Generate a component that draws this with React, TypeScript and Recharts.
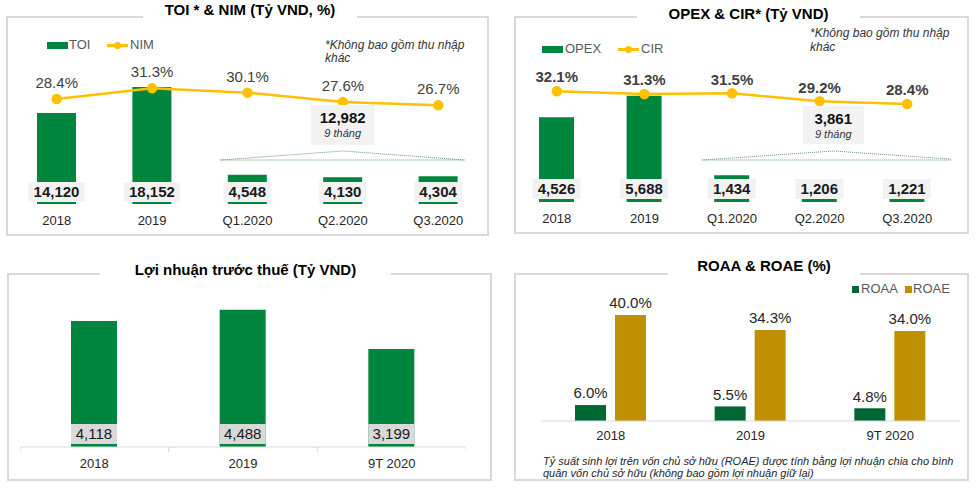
import React from 'react';
import { ComposedChart, BarChart, Bar, Line, XAxis, YAxis, LabelList } from 'recharts';

const FONT = '"Liberation Sans", Arial, sans-serif';

// TOI / NIM and OPEX / CIR by period
const periods = ['2018', '2019', 'Q1.2020', 'Q2.2020', 'Q3.2020'];
const toiValues = [14120, 18152, 4548, 4130, 4304];
const nimValues = [28.4, 31.3, 30.1, 27.6, 26.7];
const opexValues = [4526, 5688, 1434, 1206, 1221];
const cirValues = [32.1, 31.3, 31.5, 29.2, 28.4];

// profit before tax and return ratios by year
const years = ['2018', '2019', '9T 2020'];
const profitValues = [4118, 4488, 3199];
const roaaValues = [6.0, 5.5, 4.8];
const roaeValues = [40.0, 34.3, 34.0];

const GREEN = '#00853f';
const DARK_GREEN = '#006633';
const GOLD = '#bf9000';
const YELLOW = '#ffc000';

const toiData = periods.map((p, i) => ({ period: p, toi: toiValues[i], nim: nimValues[i] }));
const opexData = periods.map((p, i) => ({ period: p, opex: opexValues[i], cir: cirValues[i] }));
const profitData = years.map((y, i) => ({ year: y, profit: profitValues[i] }));
const roaData = years.map((y, i) => ({ year: y, roaa: roaaValues[i], roae: roaeValues[i] }));

// sum of the three 2020 quarters
const nineMonths = (vals: number[]) => vals.slice(2).reduce((a, b) => a + b, 0);
const fmt = (v: number) => v.toLocaleString('en-US');

const Frame = ({ left, top, width, height, title, titleY, gapLeft, gapRight }: any) => (
  <>
    <div
      style={{
        position: 'absolute', left, top, width, height,
        border: '2px solid #d9d9d9', boxSizing: 'border-box',
      }}
    />
    <div style={{ position: 'absolute', left: gapLeft, top: top - 3, width: gapRight - gapLeft, height: 6, background: '#fff' }} />
    <div
      style={{
        position: 'absolute', left: gapLeft, width: gapRight - gapLeft, top: titleY - 10, height: 20,
        lineHeight: '20px', textAlign: 'center', fontFamily: FONT, fontWeight: 'bold', fontSize: 15, color: '#000',
      }}
    >
      {title}
    </div>
  </>
);

const Txt = ({ left, cy, size = 13, italic = false, color = '#595959', children }: any) => (
  <div
    style={{
      position: 'absolute', left, top: cy - 8, height: 16, lineHeight: '16px', whiteSpace: 'nowrap',
      fontFamily: FONT, fontSize: size, fontStyle: italic ? 'italic' : 'normal', color,
    }}
  >
    {children}
  </div>
);

const LineKey = ({ left, cy, label }: any) => (
  <>
    <div style={{ position: 'absolute', left, top: cy - 1, width: 21, height: 2.5, background: YELLOW }} />
    <div style={{ position: 'absolute', left: left + 7, top: cy - 3.5, width: 7, height: 7, borderRadius: 4, background: YELLOW }} />
    <Txt left={left + 23} cy={cy}>{label}</Txt>
  </>
);

// gray box with the value sitting on the bottom of each bar
const bottomBox = (gap: number, bold: boolean, fill: string, fullWidth: boolean, note?: any) => (props: any) => {
  const { x, y, width, height, value, index } = props;
  const label = fmt(Number(value));
  const cx = Number(x) + Number(width) / 2;
  const bottom = Number(y) + Number(height);
  const w = fullWidth ? Number(width) : label.length * 8 + 8;
  const top = bottom - gap - 20;
  const parts = [
    <rect key="b" x={cx - w / 2} y={top} width={w} height={20} fill={fill} />,
    <text key="t" x={cx} y={top + 10} dy="0.35em" textAnchor="middle" fontFamily={FONT} fontSize={15}
      fontWeight={bold ? 'bold' : 'normal'} fill="#1a1a1a">{label}</text>,
  ];
  if (note && index === 3) {
    const ax = cx + note.dx;
    parts.push(
      <g key="n">
        <rect x={ax - note.w / 2} y={note.top} width={note.w} height={note.h} fill="#f2f2f2" />
        <text x={ax} y={note.top + 13} dy="0.35em" textAnchor="middle" fontFamily={FONT} fontSize={15} fontWeight="bold" fill="#111">
          {fmt(note.total)}
        </text>
        <text x={ax} y={note.top + 28} dy="0.35em" textAnchor="middle" fontFamily={FONT} fontSize={11} fontStyle="italic" fill="#333">
          9 tháng
        </text>
        <polyline
          points={`${ax - note.half},${note.base} ${ax},${note.base - 9} ${ax + note.half},${note.base}`}
          fill="none" stroke="#5c9e6e" strokeWidth={1} strokeDasharray="1 1"
        />
        <line x1={ax - note.half} x2={ax + note.half} y1={note.base} y2={note.base} stroke="#5c9e6e" strokeWidth={1} strokeDasharray="1 1" />
      </g>
    );
  }
  return <g>{parts}</g>;
};

const pointLabel = (bold: boolean, lift: number) => (props: any) => {
  const { x, y, value } = props;
  return (
    <text x={x} y={Number(y) - lift} dy="0.35em" textAnchor="middle" fontFamily={FONT} fontSize={15}
      fontWeight={bold ? 'bold' : 'normal'} fill="#404040">
      {Number(value).toFixed(1)}%
    </text>
  );
};

const topLabel = (props: any) => {
  const { x, y, width, value } = props;
  return (
    <text x={Number(x) + Number(width) / 2} y={Number(y) - 12} dy="0.35em" textAnchor="middle" fontFamily={FONT} fontSize={15} fill="#262626">
      {Number(value).toFixed(1)}%
    </text>
  );
};

const BoundaryTick = (props: any) => {
  const { x, y, payload, index } = props;
  const half = payload && payload.offset ? payload.offset : 74;
  const axisY = y - 12;
  return (
    <g>
      <line x1={x - half} x2={x - half} y1={axisY} y2={axisY + 5} stroke="#d9d9d9" />
      {index === years.length - 1 && <line x1={x + half} x2={x + half} y1={axisY} y2={axisY + 5} stroke="#d9d9d9" />}
      <text x={x} y={y} dy="0.71em" textAnchor="middle" fontFamily={FONT} fontSize={13} fill="#262626">
        {payload.value}
      </text>
    </g>
  );
};

const tickStyle = { fontFamily: FONT, fontSize: 13, fill: '#262626' };

export default function App() {
  return (
    <div style={{ position: 'absolute', left: 0, top: 0, width: 980, height: 492, background: '#fff', overflow: 'hidden' }}>
      {/* TOI & NIM */}
      <Frame left={6} top={16} width={483} height={220} title="TOI * & NIM (Tỷ VND, %)" titleY={10} gapLeft={143} gapRight={357} />
      <div style={{ position: 'absolute', left: 47, top: 42, width: 21, height: 7, background: GREEN }} />
      <Txt left={69} cy={45}>TOI</Txt>
      <LineKey left={107} cy={45} label="NIM" />
      <Txt left={325} cy={45} size={12} italic color="#333">*Không bao gồm thu nhập</Txt>
      <Txt left={325} cy={58} size={12} italic color="#333">khác</Txt>
      <div style={{ position: 'absolute', left: 9, top: 24 }}>
        <ComposedChart width={477} height={210} data={toiData} margin={{ top: 0, right: 0, bottom: 0, left: 0 }}>
          <XAxis dataKey="period" axisLine={false} tickLine={false} height={30} tickMargin={6} interval={0} tick={tickStyle} />
          <YAxis yAxisId="bar" hide domain={[0, 27907]} allowDataOverflow />
          <YAxis yAxisId="line" hide domain={[0, 48.65]} allowDataOverflow orientation="right" />
          <Bar yAxisId="bar" dataKey="toi" fill={GREEN} barSize={39} isAnimationActive={false}>
            <LabelList
              dataKey="toi"
              content={bottomBox(2, true, '#f2f2f2', false, { dx: 0, w: 64, h: 40, top: 81, base: 136, half: 122, total: nineMonths(toiValues) })}
            />
          </Bar>
          <Line yAxisId="line" dataKey="nim" stroke={YELLOW} strokeWidth={2.5} dot={{ r: 4, fill: YELLOW, stroke: YELLOW }} isAnimationActive={false}>
            <LabelList dataKey="nim" content={pointLabel(false, 16)} />
          </Line>
        </ComposedChart>
      </div>

      {/* OPEX & CIR */}
      <Frame left={514} top={16} width={455} height={218} title="OPEX & CIR* (Tỷ VND)" titleY={14} gapLeft={637} gapRight={860} />
      <div style={{ position: 'absolute', left: 542, top: 46, width: 21, height: 7, background: GREEN }} />
      <Txt left={565} cy={49}>OPEX</Txt>
      <LineKey left={618} cy={49} label="CIR" />
      <Txt left={810} cy={33} size={12} italic color="#333">*Không bao gồm thu nhập</Txt>
      <Txt left={810} cy={47} size={12} italic color="#333">khác</Txt>
      <div style={{ position: 'absolute', left: 513, top: 22 }}>
        <ComposedChart width={438} height={210} data={opexData} margin={{ top: 0, right: 0, bottom: 0, left: 0 }}>
          <XAxis dataKey="period" axisLine={false} tickLine={false} height={30} tickMargin={6} interval={0} tick={tickStyle} />
          <YAxis yAxisId="bar" hide domain={[0, 9626]} allowDataOverflow />
          <YAxis yAxisId="line" hide domain={[0, 52.17]} allowDataOverflow orientation="right" />
          <Bar yAxisId="bar" dataKey="opex" fill={GREEN} barSize={35} isAnimationActive={false}>
            <LabelList
              dataKey="opex"
              content={bottomBox(3, true, '#f2f2f2', false, { dx: 14, w: 61, h: 38, top: 84, base: 138, half: 131, total: nineMonths(opexValues) })}
            />
          </Bar>
          <Line yAxisId="line" dataKey="cir" stroke={YELLOW} strokeWidth={2.5} dot={{ r: 4, fill: YELLOW, stroke: YELLOW }} isAnimationActive={false}>
            <LabelList dataKey="cir" content={pointLabel(true, 14)} />
          </Line>
        </ComposedChart>
      </div>

      {/* Lợi nhuận trước thuế */}
      <Frame left={7} top={273} width={485} height={208} title="Lợi nhuận trước thuế (Tỷ VND)" titleY={270} gapLeft={100} gapRight={391} />
      <div style={{ position: 'absolute', left: 20, top: 290 }}>
        <BarChart width={446} height={187} data={profitData} margin={{ top: 0, right: 0, bottom: 0, left: 0 }}>
          <XAxis dataKey="year" axisLine={{ stroke: '#d9d9d9' }} tickLine={false} height={30} tickMargin={6} interval={0} tick={<BoundaryTick />} />
          <YAxis hide domain={[0, 5131]} allowDataOverflow />
          <Bar dataKey="profit" fill={GREEN} barSize={46} isAnimationActive={false}>
            <LabelList dataKey="profit" content={bottomBox(3, false, '#d9d9d9', true)} />
          </Bar>
        </BarChart>
      </div>

      {/* ROAA & ROAE */}
      <Frame left={514} top={273} width={455} height={208} title="ROAA & ROAE (%)" titleY={266} gapLeft={668} gapRight={860} />
      <div style={{ position: 'absolute', left: 852, top: 286, width: 7, height: 7, background: DARK_GREEN }} />
      <Txt left={861} cy={289}>ROAA</Txt>
      <div style={{ position: 'absolute', left: 905, top: 286, width: 7, height: 7, background: GOLD }} />
      <Txt left={913} cy={289}>ROAE</Txt>
      <div style={{ position: 'absolute', left: 541, top: 290 }}>
        <BarChart width={419} height={161} data={roaData} barGap={9} margin={{ top: 0, right: 0, bottom: 0, left: 0 }}>
          <XAxis dataKey="year" axisLine={{ stroke: '#d9d9d9' }} tickLine={false} height={30} tickMargin={4} interval={0} tick={tickStyle} />
          <YAxis hide domain={[0, 49.43]} allowDataOverflow />
          <Bar dataKey="roaa" fill={DARK_GREEN} barSize={31} isAnimationActive={false}>
            <LabelList dataKey="roaa" content={topLabel} />
          </Bar>
          <Bar dataKey="roae" fill={GOLD} barSize={31} isAnimationActive={false}>
            <LabelList dataKey="roae" content={topLabel} />
          </Bar>
        </BarChart>
      </div>
      <Txt left={543} cy={461} size={11} italic color="#262626">
        Tỷ suất sinh lợi trên vốn chủ sở hữu (ROAE) được tính bằng lợi nhuận chia cho bình
      </Txt>
      <Txt left={543} cy={473} size={11} italic color="#262626">
        quân vốn chủ sở hữu (không bao gồm lợi nhuận giữ lại)
      </Txt>
    </div>
  );
}
